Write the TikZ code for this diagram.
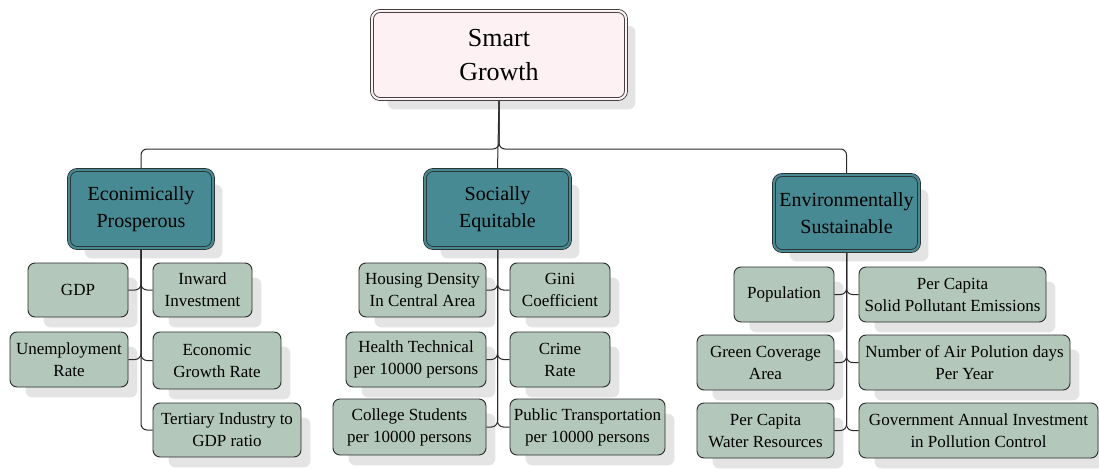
\documentclass[tikz,border=0pt]{standalone}
\usepackage{fontspec}
\setmainfont{Liberation Serif}
\usetikzlibrary{calc}
\pgfdeclarelayer{shade}
\pgfdeclarelayer{links}
\pgfsetlayers{shade,links,main}

\definecolor{rootfill}{HTML}{FEF1F4}
\definecolor{midfill}{HTML}{478A93}
\definecolor{leaffill}{HTML}{B3C8BB}
\definecolor{shadowgray}{HTML}{E4E4E4}
\definecolor{edgegray}{HTML}{2A2A2A}

\tikzset{
  rootbox/.style={draw=edgegray, line width=0.8pt, double=rootfill, double distance=2.2pt,
    fill=rootfill, rounded corners=8pt, align=center, inner sep=0pt,
    font=\fontsize{26}{34}\selectfont},
  midbox/.style={draw=edgegray, line width=0.8pt, double=midfill, double distance=2.2pt,
    fill=midfill, rounded corners=8pt, align=center, inner sep=0pt,
    font=\fontsize{20}{27}\selectfont},
  leafbox/.style={draw=edgegray, line width=0.9pt, fill=leaffill, rounded corners=7pt,
    align=center, inner sep=0pt, font=\fontsize{17}{22}\selectfont},
  link/.style={draw=edgegray, line width=1pt, rounded corners=6pt},
}

% style, name, x1, y1, x2, y2, text  (y grows downwards)
\newcommand\boxat[7]{%
  \node[#1, minimum width={#5-#3}, minimum height={#6-#4}] (#2) at ({(#3+#5)/2},{(#4+#6)/2}) {#7};
  \begin{pgfonlayer}{shade}
    \fill[shadowgray, rounded corners=7pt]
      ([shift={(16,15)}]#2.north west) rectangle ([shift={(9,10)}]#2.south east);
  \end{pgfonlayer}}

\begin{document}
\begin{tikzpicture}[x=1pt,y=-1pt]
\useasboundingbox (0,0) rectangle (1099,468);

% root and the three pillars
\boxat{rootbox}{root}{372}{11}{626}{99}{Smart\\Growth}
\boxat{midbox}{econ}{69}{170}{213}{248}{Econimically\\Prosperous}
\boxat{midbox}{soc}{425}{170}{570}{248}{Socially\\Equitable}
\boxat{midbox}{env}{774}{175}{919}{251}{Environmentally\\Sustainable}

% economic indicators
\boxat{leafbox}{gdp}{28}{263}{128}{317}{GDP}
\boxat{leafbox}{inward}{153}{263}{252}{317}{Inward\\Investment}
\boxat{leafbox}{unemp}{10}{332}{128}{387}{Unemployment\\Rate}
\boxat{leafbox}{egrowth}{153}{332}{281}{389}{Economic\\Growth Rate}
\boxat{leafbox}{tertiary}{153}{403}{301}{457}{Tertiary Industry to\\GDP ratio}

% social indicators
\boxat{leafbox}{housing}{359}{263}{486}{317}{Housing Density\\In Central Area}
\boxat{leafbox}{gini}{510}{263}{610}{317}{Gini\\Coefficient}
\boxat{leafbox}{health}{346}{332}{486}{387}{Health Technical\\per 10000 persons}
\boxat{leafbox}{crime}{510}{332}{610}{387}{Crime\\Rate}
\boxat{leafbox}{college}{333}{399}{486}{455}{College Students\\per 10000 persons}
\boxat{leafbox}{transport}{510}{399}{665}{455}{Public Transportation\\per 10000 persons}

% environmental indicators
\boxat{leafbox}{popul}{734}{267}{834}{322}{Population}
\boxat{leafbox}{solid}{859}{267}{1046}{322}{Per Capita\\Solid Pollutant Emissions}
\boxat{leafbox}{green}{697}{335}{834}{390}{Green Coverage\\Area}
\boxat{leafbox}{airdays}{859}{335}{1070}{390}{Number of Air Polution days\\Per Year}
\boxat{leafbox}{water}{697}{403}{834}{458}{Per Capita\\Water Resources}
\boxat{leafbox}{govinv}{859}{403}{1098}{458}{Government Annual Investment\\in Pollution Control}

\coordinate (bus) at (root.south |- 0,149);

\begin{pgfonlayer}{links}
  % root to pillars
  \draw[link] (root.south) -- (bus) -| (econ.north);
  \draw[link] (root.south) -- (bus) -| (env.north);
  \draw[link] (root.south) -- (soc.north);
  % pillars to indicators
  \foreach \leaf in {gdp,unemp}
    \draw[link] (econ.south) |- (\leaf.east);
  \foreach \leaf in {inward,egrowth,tertiary}
    \draw[link] (econ.south) |- (\leaf.west);
  \foreach \leaf in {housing,health,college}
    \draw[link] (soc.south) |- (\leaf.east);
  \foreach \leaf in {gini,crime,transport}
    \draw[link] (soc.south) |- (\leaf.west);
  \foreach \leaf in {popul,green,water}
    \draw[link] (env.south) |- (\leaf.east);
  \foreach \leaf in {solid,airdays,govinv}
    \draw[link] (env.south) |- (\leaf.west);
\end{pgfonlayer}
\end{tikzpicture}
\end{document}
